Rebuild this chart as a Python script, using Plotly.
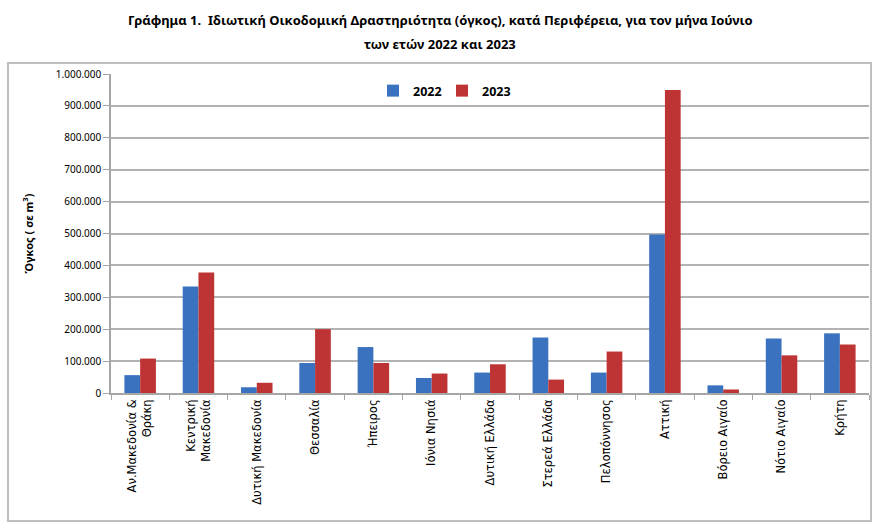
import plotly.graph_objects as go

categories = [
    "Αν.Μακεδονία &<br>Θράκη", "Κεντρική<br>Μακεδονία", "Δυτική Μακεδονία", "Θεσσαλία",
    "Ήπειρος", "Ιόνια Νησιά", "Δυτική Ελλάδα", "Στερεά Ελλάδα", "Πελοπόννησος",
    "Αττική", "Βόρειο Αιγαίο", "Νότιο Αιγαίο", "Κρήτη",
]
values_2022 = [56000, 334000, 18000, 94000, 144000, 47000, 64000, 174000, 64000, 497000, 24000, 171000, 187000]
values_2023 = [108000, 378000, 32000, 200000, 94000, 61000, 90000, 42000, 130000, 950000, 11000, 118000, 152000]
y_ticks = [0, 100000, 200000, 300000, 400000, 500000, 600000, 700000, 800000, 900000, 1000000]
title_lines = [
    "Γράφημα 1.  Ιδιωτική Οικοδομική Δραστηριότητα (όγκος), κατά Περιφέρεια, για τον μήνα Ιούνιο",
    "των ετών 2022 και 2023",
]

W, H = 880, 529
L, R, T, B = 111, 11, 74, 136
pw, ph = W - L - R, H - T - B

fig = go.Figure()
fig.add_trace(go.Bar(name="<b>2022</b>", x=categories, y=values_2022,
                     marker=dict(color="#3A72BF", line=dict(width=0))))
fig.add_trace(go.Bar(name="<b>2023</b>", x=categories, y=values_2023,
                     marker=dict(color="#BE3435", line=dict(width=0))))

def px_x(p):
    return (p - L) / pw

def px_y(p):
    return (H - B - p) / ph

fig.add_shape(type="rect", xref="paper", yref="paper",
              x0=px_x(8), x1=px_x(871), y0=px_y(521), y1=px_y(63),
              line=dict(color="#BFBFBF", width=2), layer="below")

for line, ypix in zip(title_lines, [20, 44]):
    fig.add_annotation(text="<b>" + line + "</b>", xref="paper", yref="paper",
                       x=px_x(440), y=px_y(ypix), xanchor="center", yanchor="middle",
                       showarrow=False,
                       font=dict(family="Noto Sans", size=13, color="#000000"))

fig.update_layout(
    width=W, height=H,
    margin=dict(l=L, r=R, t=T, b=B, pad=0, autoexpand=False),
    paper_bgcolor="white", plot_bgcolor="white",
    separators=",.",
    barmode="group", bargap=0.46, bargroupgap=0,
    font=dict(family="Noto Sans", color="#000000"),
    legend=dict(orientation="h", x=px_x(373), xanchor="left", y=px_y(76), yanchor="top",
                font=dict(family="Noto Sans", size=12.5, color="#000000"),
                bgcolor="rgba(0,0,0,0)", itemwidth=30, traceorder="normal",
                entrywidthmode="pixels", entrywidth=24, tracegroupgap=0),
    showlegend=True,
)

fig.update_xaxes(
    type="category", tickangle=-90, tickson="boundaries", automargin=False,
    ticks="outside", ticklen=5, tickcolor="#A6A6A6",
    showline=True, linecolor="#A6A6A6", linewidth=1.5,
    showgrid=False,
    tickfont=dict(family="DejaVu Sans", size=11.5, color="#000000"),
)
fig.update_yaxes(
    range=[0, 1000000], tickvals=y_ticks, tickformat=",d", automargin=False,
    ticks="outside", ticklen=6, tickcolor="#A6A6A6",
    showline=True, linecolor="#A6A6A6", linewidth=1.5,
    showgrid=True, gridcolor="#B3B3B3", gridwidth=1.5,
    zeroline=False,
    tickfont=dict(family="Noto Sans", size=10, color="#000000"),
    title=dict(text="<b>Όγκος ( σε m<sup>3</sup>)</b>", standoff=20,
               font=dict(family="Noto Sans", size=11, color="#000000")),
)

fig.write_html("out.html", config={"displayModeBar": False},
               post_script="document.body.style.margin='0';document.body.style.padding='0';")
